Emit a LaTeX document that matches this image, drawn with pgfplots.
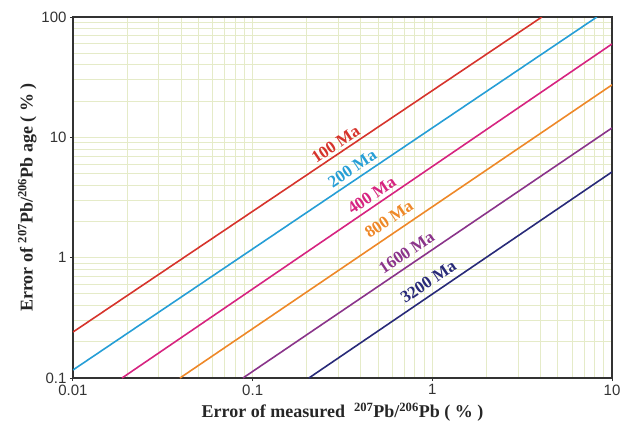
\documentclass[border=0pt]{standalone}
\usepackage{pgfplots}
\pgfplotsset{compat=1.18}
\usepackage{fontspec}
\setmainfont{Liberation Serif}
\newfontfamily\arial{Liberation Sans}

\definecolor{gridc}{RGB}{229,235,200}
\definecolor{c100}{RGB}{214,52,44}
\definecolor{c200}{RGB}{38,158,214}
\definecolor{c400}{RGB}{214,36,128}
\definecolor{c800}{RGB}{238,136,40}
\definecolor{c1600}{RGB}{138,52,138}
\definecolor{c3200}{RGB}{40,42,120}
\definecolor{axc}{RGB}{50,50,50}

\begin{document}
\begin{tikzpicture}
\begin{axis}[
  scale only axis,
  width=539pt, height=361pt,
  at={(0,0)}, anchor=south west,
  xmode=log, ymode=log,
  xmin=0.01, xmax=10, ymin=0.1, ymax=100,
  xtick={0.01,0.1,1,10}, ytick={0.1,1,10,100},
  xticklabels={0.01,0.1,1,10},
  yticklabels={0.1,1,10,100},
  grid=both,
  major grid style={gridc, line width=0.9pt},
  minor grid style={gridc, line width=0.9pt},
  minor tick length=0pt,
  major tick length=3pt,
  tick align=outside,
  xtick pos=left, ytick pos=left,
  axis line style={axc, line width=1.2pt},
  tick style={axc, line width=1pt},
  /pgf/number format/assume math mode=true,
  tick label style={font=\arial\fontsize{15}{17}\selectfont, text=black!80},
  xlabel={Error of measured ~\textsuperscript{207}Pb/\textsuperscript{206}Pb ( \% )},
  ylabel={Error of \textsuperscript{207}Pb/\textsuperscript{206}Pb age ( \% )},
  label style={font=\bfseries\fontsize{18}{20}\selectfont, text=black!85},
  xlabel style={yshift=-1pt},
  ylabel style={yshift=-2pt},
  clip=true,
]
% error propagation lines for each age
\addplot[c100, line width=1.6pt] coordinates {(0.01,0.241) (4.07,100)};
\addplot[c200, line width=1.6pt] coordinates {(0.01,0.1166) (8.24,100)};
\addplot[c400, line width=1.6pt] coordinates {(0.01875,0.1) (10,59.7)};
\addplot[c800, line width=1.6pt] coordinates {(0.0394,0.1) (10,27.3)};
\addplot[c1600, line width=1.6pt] coordinates {(0.0883,0.1) (10,11.97)};
\addplot[c3200, line width=1.6pt] coordinates {(0.2056,0.1) (10,5.16)};

\begin{scope}[every node/.style={rotate=34, inner sep=0pt, font=\bfseries\fontsize{17}{19}\selectfont}]
\node[text=c100]  at (axis cs:0.2897,8.81)  {100 Ma};
\node[text=c200]  at (axis cs:0.3583,5.535) {200 Ma};
\node[text=c400]  at (axis cs:0.4596,3.32)  {400 Ma};
\node[text=c800]  at (axis cs:0.5734,2.097) {800 Ma};
\node[text=c1600] at (axis cs:0.7194,1.109) {1600 Ma};
\node[text=c3200] at (axis cs:0.949,0.632)  {3200 Ma};
\end{scope}
\end{axis}
\pgfresetboundingbox
\path (-73pt,-51pt) rectangle (547pt,378pt);
\end{tikzpicture}
\end{document}
